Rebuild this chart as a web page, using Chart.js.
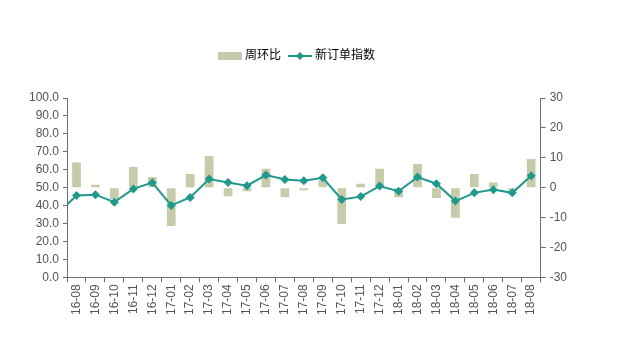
<!DOCTYPE html>
<html>
<head>
<meta charset="utf-8">
<script src="https://cdn.jsdelivr.net/npm/chart.js@4"></script>
<style>
  html, body { margin: 0; padding: 0; background: #fff; }
  #wrap { width: 636px; height: 351px; }
</style>
</head>
<body>
<div id="wrap"><canvas id="orderChart" width="636" height="351"></canvas></div>
<script>
// 月份（16-07 只用于画出左侧被裁掉的线段）
const months = ["16-07", "16-08", "16-09", "16-10", "16-11", "16-12", "17-01", "17-02", "17-03", "17-04",
    "17-05", "17-06", "17-07", "17-08", "17-09", "17-10", "17-11", "17-12", "18-01", "18-02",
    "18-03", "18-04", "18-05", "18-06", "18-07", "18-08"];

// 周环比（右轴）
const weekChange = [null, 8.4, 1.0, -3.8, 6.9, 3.6, -12.8, 4.6, 10.6, -2.9,
    -1.2, 6.3, -3.2, -0.9, 2.5, -12.2, 1.3, 6.3, -3.2, 7.9,
    -3.5, -10.1, 4.6, 1.7, -1.0, 9.6];

// 新订单指数（左轴）
const newOrders = [35.6, 45.6, 46.1, 41.9, 49.3, 52.8, 40.1, 44.5, 54.8, 52.9,
    51.1, 57.0, 54.6, 53.9, 55.5, 43.4, 45.0, 50.9, 48.0, 55.9,
    52.2, 42.5, 47.1, 48.9, 47.1, 56.6];

const leftTicks = { min: 0, max: 100, step: 10 };
const rightTicks = { min: -30, max: 30, step: 10 };

const colors = {
    bar: "#c6cba9",
    line: "#1d9a8b",
    axis: "#6e6e6e",
    text: "#555555"
};

// 图例小图标
function makeIcon(kind) {
    const c = document.createElement("canvas");
    c.width = 26;
    c.height = 12;
    const g = c.getContext("2d");
    if (kind === "bar") {
        g.fillStyle = colors.bar;
        g.fillRect(1, 2, 24, 8);
    } else {
        g.strokeStyle = colors.line;
        g.lineWidth = 2;
        g.beginPath();
        g.moveTo(1, 6);
        g.lineTo(25, 6);
        g.stroke();
        g.fillStyle = colors.line;
        g.beginPath();
        g.moveTo(13, 2);
        g.lineTo(17, 6);
        g.lineTo(13, 10);
        g.lineTo(9, 6);
        g.closePath();
        g.fill();
    }
    return c;
}

// 图例下方留白
const legendGap = {
    id: "legendGap",
    beforeInit(chart) {
        const fit = chart.legend.fit;
        chart.legend.fit = function () {
            fit.bind(chart.legend)();
            this.height += 26;
        };
    }
};

const font = "'Liberation Sans', 'Noto Sans CJK SC', sans-serif";
Chart.defaults.font.family = font;
Chart.defaults.font.size = 12;
Chart.defaults.color = colors.text;

new Chart(document.getElementById("orderChart"), {
    data: {
        labels: months,
        datasets: [
            {
                type: "line",
                label: "新订单指数",
                data: newOrders,
                yAxisID: "y",
                borderColor: colors.line,
                backgroundColor: colors.line,
                borderWidth: 2,
                tension: 0,
                pointStyle: "rectRot",
                pointRadius: 4.5,
                pointHoverRadius: 4.5,
                pointBorderWidth: 0,
                order: 0
            },
            {
                type: "bar",
                label: "周环比",
                data: weekChange,
                yAxisID: "y1",
                backgroundColor: colors.bar,
                barPercentage: 0.46,
                categoryPercentage: 1,
                order: 1
            }
        ]
    },
    plugins: [legendGap],
    options: {
        responsive: false,
        animation: false,
        layout: { padding: { left: 25, right: 65, top: 40, bottom: 34 } },
        plugins: {
            legend: {
                position: "top",
                reverse: true,
                labels: {
                    usePointStyle: true,
                    pointStyleWidth: 18,
                    padding: 10,
                    color: "#444",
                    font: { size: 12, family: font },
                    generateLabels(chart) {
                        return chart.data.datasets.map((ds, i) => ({
                            text: ds.label,
                            pointStyle: makeIcon(ds.type),
                            fillStyle: ds.backgroundColor,
                            strokeStyle: ds.borderColor,
                            lineWidth: 0,
                            hidden: false,
                            datasetIndex: i
                        }));
                    }
                }
            },
            tooltip: { enabled: false }
        },
        scales: {
            x: {
                min: "16-08",
                offset: true,
                grid: {
                    offset: true,
                    drawOnChartArea: false,
                    drawTicks: true,
                    tickLength: 5,
                    color: colors.axis
                },
                border: { display: true, color: colors.axis, width: 1 },
                ticks: {
                    autoSkip: false,
                    minRotation: 90,
                    maxRotation: 90,
                    padding: 2,
                    color: colors.text
                }
            },
            y: {
                position: "left",
                min: leftTicks.min,
                max: leftTicks.max,
                grid: {
                    drawOnChartArea: false,
                    drawTicks: true,
                    tickLength: 4,
                    color: colors.axis
                },
                border: { display: true, color: colors.axis, width: 1 },
                ticks: {
                    stepSize: leftTicks.step,
                    padding: 4,
                    color: colors.text,
                    callback: v => v.toFixed(1)
                }
            },
            y1: {
                position: "right",
                min: rightTicks.min,
                max: rightTicks.max,
                grid: {
                    drawOnChartArea: false,
                    drawTicks: true,
                    tickLength: 5,
                    color: colors.axis
                },
                border: { display: true, color: colors.axis, width: 1 },
                ticks: {
                    stepSize: rightTicks.step,
                    padding: 4,
                    color: colors.text
                }
            }
        }
    }
});
</script>
</body>
</html>
